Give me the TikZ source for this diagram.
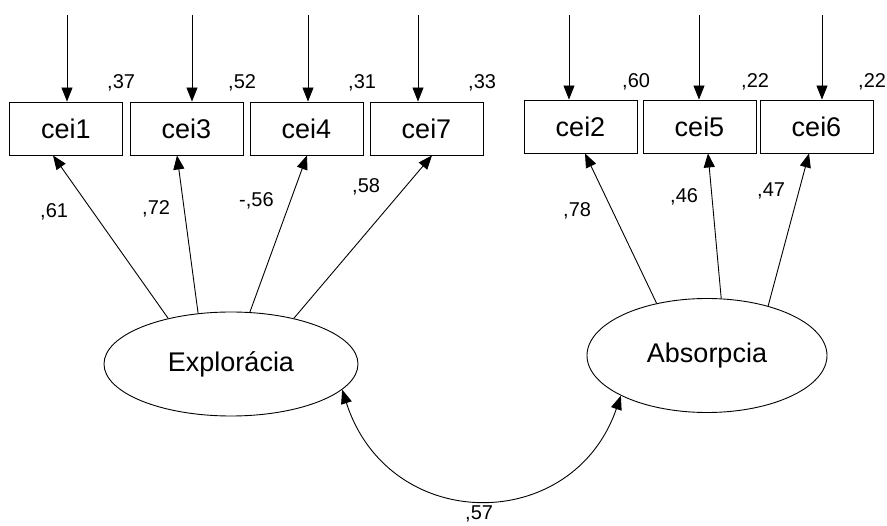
\documentclass[tikz,border=0pt]{standalone}
\usepackage{fontspec}
\setmainfont{Liberation Sans}
\usetikzlibrary{arrows.meta,shapes.geometric}
\begin{document}
\begin{tikzpicture}[x=1pt,y=-1pt,
 obs/.style={draw,line width=0.9pt,minimum width=113pt,minimum height=53pt,inner sep=0pt,font=\fontsize{27}{32}\selectfont},
 lat/.style={draw,ellipse,line width=0.9pt,inner sep=0pt,font=\fontsize{27}{32}\selectfont},
 lab/.style={inner sep=0pt,anchor=base west,font=\fontsize{20}{24}\selectfont},
 arr/.style={line width=0.9pt,-{Triangle[length=14pt,width=11pt]}},
 darr/.style={line width=0.9pt,{Triangle[length=14pt,width=11pt]}-{Triangle[length=14pt,width=11pt]}}]
\useasboundingbox (0,0) rectangle (887,526);

% observed variables
\node[obs] (cei1) at (66,128.5) {cei1};
\node[obs] (cei3) at (186.5,128.5) {cei3};
\node[obs] (cei4) at (306.5,128.5) {cei4};
\node[obs] (cei7) at (426.5,128.5) {cei7};
\node[obs] (cei2) at (580.5,126.5) {cei2};
\node[obs] (cei5) at (699.5,126.5) {cei5};
\node[obs] (cei6) at (816.5,126.5) {cei6};

% latent variables
\node[lat,minimum width=254pt,minimum height=104pt] (expl) at (231,364) {Explorácia};
\node[lat,minimum width=240pt,minimum height=114pt] (abso) at (707,355.5) {Absorpcia};

% error arrows
\coordinate (t1) at (67,15);
\coordinate (t3) at (192,15);
\coordinate (t4) at (308,15);
\coordinate (t7) at (418,15);
\coordinate (t2) at (569,15);
\coordinate (t5) at (699,15);
\coordinate (t6) at (822,15);
\draw[arr] (t1) -- (t1 |- cei1.north);
\draw[arr] (t3) -- (t3 |- cei3.north);
\draw[arr] (t4) -- (t4 |- cei4.north);
\draw[arr] (t7) -- (t7 |- cei7.north);
\draw[arr] (t2) -- (t2 |- cei2.north);
\draw[arr] (t5) -- (t5 |- cei5.north);
\draw[arr] (t6) -- (t6 |- cei6.north);

% loadings
\draw[arr] (expl.144) -- ([xshift=-13pt]cei1.south);
\draw[arr] (expl.123) -- ([xshift=-9.5pt]cei3.south);
\draw[arr] (expl.70) -- ([xshift=0.5pt]cei4.south);
\draw[arr] (expl.36) -- ([xshift=5.5pt]cei7.south);
\draw[arr] (abso.134) -- ([xshift=4.5pt]cei2.south);
\draw[arr] (abso.76) -- ([xshift=8.5pt]cei5.south);
\draw[arr] (abso.39) -- ([xshift=-7.5pt]cei6.south);

% covariance
\draw[darr] (expl.-13.7) .. controls (389,535) and (573,535) .. (abso.205.5);

% labels
\node[lab] (r1) at (107,89) {,37};
\node[lab] (r3) at (228,89) {,52};
\node[lab] (r4) at (348,89) {,31};
\node[lab] (r7) at (468,89) {,33};
\node[lab] (r2) at (622,88) {,60};
\node[lab] (r5) at (741,88) {,22};
\node[lab] (r6) at (858,88) {,22};
\node[lab] (l1) at (40,218) {,61};
\node[lab] (l3) at (142,215) {,72};
\node[lab] (l4) at (239,207) {-,56};
\node[lab] (l7) at (352,193) {,58};
\node[lab] (l2) at (563,217) {,78};
\node[lab] (l5) at (670,203) {,46};
\node[lab] (l6) at (757,197) {,47};
\node[lab] (cv) at (465,520) {,57};
\end{tikzpicture}
\end{document}
